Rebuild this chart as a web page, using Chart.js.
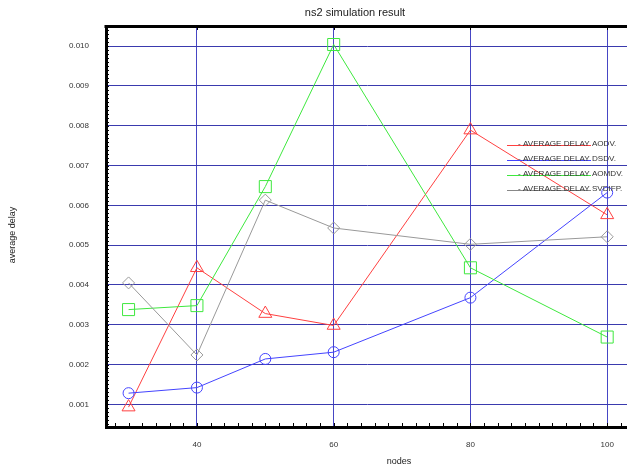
<!DOCTYPE html>
<html>
<head>
<meta charset="utf-8">
<script src="https://cdn.jsdelivr.net/npm/chart.js@4/dist/chart.umd.min.js"></script>
<style>
html, body { margin: 0; padding: 0; background: #fff; overflow: hidden; }
canvas { display: block; }
</style>
</head>
<body>
<canvas id="chart" width="627" height="466"></canvas>
<script>
// nodes on the x axis, average delay per protocol
const nodes = [30, 40, 50, 60, 80, 100];
const delayAodv = [0.00093, 0.00443, 0.00328, 0.00298, 0.00789, 0.00576];
const delayDsdv = [0.00128, 0.00142, 0.00214, 0.00231, 0.00368, 0.00632];
const delayAomdv = [0.00338, 0.00348, 0.00647, 0.01004, 0.00443, 0.00269];
const delaySvdifp = [0.00405, 0.00224, 0.00613, 0.00543, 0.00502, 0.00521];
const seriesLabels = ['- AVERAGE DELAY AODV.', '- AVERAGE DELAY DSDV.', '- AVERAGE DELAY AOMDV.', '- AVERAGE DELAY SVDIFP.'];
const xTickValues = [40, 60, 80, 100];
const yTickValues = [0.001, 0.002, 0.003, 0.004, 0.005, 0.006, 0.007, 0.008, 0.009, 0.010];

const FONT = '"Liberation Sans", Arial, sans-serif';
const COLORS = { aodv: '#ff4040', dsdv: '#4444ff', aomdv: '#3ee83e', svdifp: '#999999' };
const GRID_H = '#3a3aae';
const GRID_V = '#4646c4';

Chart.defaults.font.family = FONT;
Chart.defaults.font.size = 8;

function lineSet(label, values, color, pointStyle, radius) {
    return {
        label,
        data: nodes.map((n, i) => ({ x: n, y: values[i] })),
        borderColor: color,
        backgroundColor: 'transparent',
        borderWidth: 1,
        pointStyle,
        pointRadius: radius,
        pointHoverRadius: radius,
        pointBorderColor: color,
        pointBackgroundColor: 'transparent',
        pointBorderWidth: 1,
        tension: 0,
    };
}

// frame top, minor ticks, legend and titles — drawn on top of the chart
const decorations = {
    id: 'decorations',
    afterDraw(chart) {
        const { ctx, chartArea: a, scales: { x, y } } = chart;
        ctx.save();
        ctx.fillStyle = '#000';
        ctx.fillRect(a.left - 1.5, a.top - 2, a.right - a.left + 2, 3);

        ctx.strokeStyle = '#000';
        ctx.lineWidth = 1;
        ctx.beginPath();
        for (let v = 28; v <= 102; v += 2) {
            const px = Math.round(x.getPixelForValue(v)) + 0.5;
            ctx.moveTo(px, a.bottom);
            ctx.lineTo(px, a.bottom - 4);
        }
        for (let i = 5; i <= 104; i++) {
            const py = Math.round(y.getPixelForValue(i / 10000)) + 0.5;
            ctx.moveTo(a.left, py);
            ctx.lineTo(a.left + 3, py);
        }
        xTickValues.forEach(v => {
            const px = Math.round(x.getPixelForValue(v)) + 0.5;
            ctx.moveTo(px, a.top);
            ctx.lineTo(px, a.top + 3);
        });
        ctx.stroke();

        // legend
        const legendColors = [COLORS.aodv, COLORS.dsdv, COLORS.aomdv, '#888'];
        ctx.font = '8.1px ' + FONT;
        ctx.textBaseline = 'alphabetic';
        ctx.textAlign = 'left';
        seriesLabels.forEach((label, i) => {
            const ly = 145 + i * 15;
            ctx.strokeStyle = legendColors[i];
            ctx.beginPath();
            ctx.moveTo(507, ly + 0.5);
            ctx.lineTo(591, ly + 0.5);
            ctx.stroke();
            ctx.fillStyle = '#333';
            ctx.fillText(label, 518, ly + 1);
        });

        // titles
        ctx.fillStyle = '#222';
        ctx.textAlign = 'center';
        ctx.textBaseline = 'middle';
        ctx.font = '11px ' + FONT;
        ctx.fillText('ns2 simulation result', 355, 13);
        ctx.font = '9px ' + FONT;
        ctx.fillText('nodes', 399, 462);
        ctx.translate(13, 235);
        ctx.rotate(-Math.PI / 2);
        ctx.fillText('average delay', 0, 0);
        ctx.restore();
    },
};

new Chart(document.getElementById('chart'), {
    type: 'line',
    data: {
        datasets: [
            lineSet(seriesLabels[3], delaySvdifp, COLORS.svdifp, 'rectRot', 6),
            lineSet(seriesLabels[2], delayAomdv, COLORS.aomdv, 'rect', 8.5),
            lineSet(seriesLabels[1], delayDsdv, COLORS.dsdv, 'circle', 5.5),
            lineSet(seriesLabels[0], delayAodv, COLORS.aodv, 'triangle', 7.5),
        ],
    },
    options: {
        responsive: false,
        animation: false,
        devicePixelRatio: 1,
        layout: { autoPadding: false, padding: { top: 27, right: 0, bottom: 0, left: 0 } },
        plugins: { legend: { display: false }, title: { display: false }, tooltip: { enabled: false } },
        scales: {
            x: {
                type: 'linear',
                min: 26.7,
                max: 102.9,
                afterBuildTicks: s => { s.ticks = xTickValues.map(v => ({ value: v })); },
                afterFit: s => { s.height = 39; s.paddingLeft = 0; s.paddingRight = 0; },
                grid: { color: GRID_V, lineWidth: 1, drawTicks: false },
                border: { color: '#000', width: 3 },
                ticks: { padding: 13, color: '#333', autoSkip: false, maxRotation: 0, callback: v => String(v) },
            },
            y: {
                type: 'linear',
                min: 0.00043,
                max: 0.01048,
                afterBuildTicks: s => { s.ticks = yTickValues.map(v => ({ value: v })); },
                afterFit: s => { s.width = 106; s.paddingTop = 0; s.paddingBottom = 0; },
                grid: { color: GRID_H, lineWidth: 1, drawTicks: false },
                border: { color: '#000', width: 3 },
                ticks: { padding: 17, color: '#333', autoSkip: false, callback: v => v.toFixed(3) },
            },
        },
    },
    plugins: [decorations],
});
</script>
</body>
</html>
